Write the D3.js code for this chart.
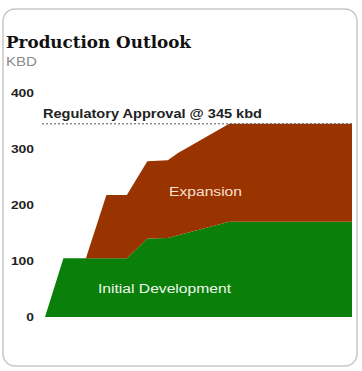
<!DOCTYPE html>
<html>
<head>
<meta charset="utf-8">
<script src="https://cdn.jsdelivr.net/npm/d3@7"></script>
<style>
  body { margin: 0; background: #fff; }
</style>
</head>
<body>
<script>
// time points (years from start), shared by both series
var years = [0, 0.9, 2, 3, 4, 5, 6, 6.5, 9, 15];
var initialDev = [0, 105, 105, 105, 105, 140, 141, 146, 170, 170];
var expansion = [0, 0, 0, 113, 113, 138, 139, 147, 175, 175];
var yTicks = [0, 100, 200, 300, 400];
var approval = 345;

var sans = "'Liberation Sans', Arial, sans-serif";

var svg = d3.select("body")
  .append("svg")
  .attr("width", 362)
  .attr("height", 371);

// card frame
svg.append("rect")
  .attr("x", 3).attr("y", 9)
  .attr("width", 354).attr("height", 357)
  .attr("rx", 12)
  .style("fill", "#fff")
  .style("stroke", "#c8c8c8")
  .style("stroke-width", 1.5);

// the source picture is stretched sideways, so glyphs get stretched too
function stretched(sel, len) {
  return sel.attr("textLength", len).attr("lengthAdjust", "spacingAndGlyphs");
}

stretched(svg.append("text"), 185)
  .attr("x", 6).attr("y", 48)
  .style("font-family", "'DejaVu Serif', 'Liberation Serif', serif")
  .style("font-weight", "bold")
  .style("font-size", "17px")
  .style("fill", "#111")
  .text("Production Outlook");

stretched(svg.append("text"), 31)
  .attr("x", 6).attr("y", 66)
  .style("font-family", sans)
  .style("font-size", "12.5px")
  .style("fill", "#8a8a8a")
  .text("KBD");

var x = d3.scaleLinear().domain([0, 15]).range([45, 352]);
var y = d3.scaleLinear().domain([0, 400]).range([317, 93]);

var rows = years.map(function(t, i) {
  return {t: t, init: initialDev[i], exp: expansion[i]};
});
var stacked = d3.stack().keys(["init", "exp"])(rows);
var colors = {init: "#0a7f0a", exp: "#993300"};

var area = d3.area()
  .x(function(d) { return x(d.data.t); })
  .y0(function(d) { return y(d[0]); })
  .y1(function(d) { return y(d[1]); });

svg.selectAll(".layer")
  .data(stacked)
  .enter().append("path")
  .attr("class", "layer")
  .attr("d", area)
  .style("fill", function(d) { return colors[d.key]; });

// y axis labels
svg.selectAll(".ytick")
  .data(yTicks)
  .enter().append("text")
  .attr("class", "ytick")
  .attr("x", 34)
  .attr("y", function(d) { return y(d); })
  .attr("dy", "0.35em")
  .attr("text-anchor", "end")
  .attr("textLength", function(d) { return String(d).length * 7.7; })
  .attr("lengthAdjust", "spacingAndGlyphs")
  .style("font-family", sans)
  .style("font-weight", "bold")
  .style("font-size", "11px")
  .style("fill", "#222")
  .text(function(d) { return d; });

// regulatory approval line
svg.append("line")
  .attr("x1", 42).attr("x2", 352)
  .attr("y1", y(approval)).attr("y2", y(approval))
  .style("stroke", "#555")
  .style("stroke-width", 1)
  .style("stroke-dasharray", "2,2");

stretched(svg.append("text"), 219)
  .attr("x", 43).attr("y", 118)
  .style("font-family", sans)
  .style("font-weight", "bold")
  .style("font-size", "12.5px")
  .style("fill", "#222")
  .text("Regulatory Approval @ " + approval + " kbd");

stretched(svg.append("text"), 73)
  .attr("x", 169).attr("y", 196)
  .style("font-family", sans)
  .style("font-size", "12.5px")
  .style("fill", "#f9e0d4")
  .text("Expansion");

stretched(svg.append("text"), 133)
  .attr("x", 98).attr("y", 293)
  .style("font-family", sans)
  .style("font-size", "12.5px")
  .style("fill", "#eef7ee")
  .text("Initial Development");
</script>
</body>
</html>
